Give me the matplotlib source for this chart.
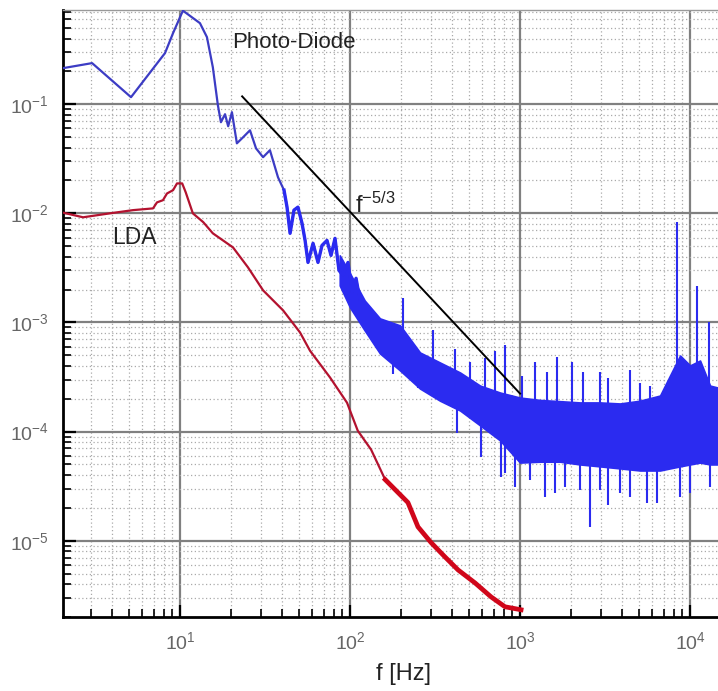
import numpy as np
import matplotlib.pyplot as plt
from matplotlib.ticker import LogLocator, NullFormatter

plt.rcParams['font.family'] = ['Liberation Sans', 'DejaVu Sans']
plt.rcParams['mathtext.fontset'] = 'custom'
plt.rcParams['mathtext.rm'] = 'Liberation Sans'
plt.rcParams['mathtext.it'] = 'Liberation Sans:italic'
plt.rcParams['mathtext.bf'] = 'Liberation Sans:bold'

# Photo-Diode spectrum, resolved part
pd_freq = [2.05, 3.04, 5.15, 8.16, 9.10, 10.4, 13.1, 14.4, 15.6, 16.7, 17.4,
           18.4, 19.2, 20.2, 21.6, 23.5, 25.8, 28.0, 30.8, 33.8, 37.7, 40.9,
           42.6, 44.4, 46.8, 49.4, 52.2, 54.4, 56.6, 60.6, 64.8, 68.4, 73.2,
           77.3, 81.6, 86.1, 91.0, 97.3, 102.8, 108.5, 114.5]
pd_psd = [0.214, 0.238, 0.116, 0.294, 0.448, 0.72, 0.553, 0.412, 0.218, 0.098,
          0.0684, 0.081, 0.0628, 0.0845, 0.0438, 0.0498, 0.0577, 0.0394,
          0.0327, 0.0379, 0.0214, 0.0163, 0.0114, 0.00656, 0.0107, 0.0114,
          0.0081, 0.00565, 0.00355, 0.00531, 0.00355, 0.00508, 0.00565,
          0.00412, 0.0059, 0.0030, 0.0027, 0.00355, 0.00188, 0.00254, 0.00159]

# Photo-Diode noise floor: upper / lower edge of the dense band
band_freq = [87, 100, 122, 150, 197, 258, 338, 444, 582, 763, 1000, 1311,
             1719, 2254, 2955, 3875, 5080, 6660, 7627, 8734, 10000, 11450,
             13110, 14610]
band_upper = [4.12e-3, 2.82e-3, 1.59e-3, 1.09e-3, 9.4e-4, 5.31e-4, 4.30e-4,
              3.48e-4, 2.64e-4, 2.28e-4, 2.05e-4, 1.95e-4, 1.9e-4, 1.85e-4,
              1.85e-4, 1.81e-4, 1.92e-4, 2.14e-4, 3.27e-4, 4.98e-4, 4.04e-4,
              4.48e-4, 2.64e-4, 2.53e-4]
band_lower = [2.18e-3, 1.37e-3, 8.45e-4, 5.2e-4, 3.63e-4, 2.48e-4, 1.92e-4,
              1.56e-4, 1.14e-4, 8.3e-5, 5.2e-5, 5.3e-5, 5.3e-5, 5.0e-5,
              4.8e-5, 4.6e-5, 4.4e-5, 4.4e-5, 4.6e-5, 4.8e-5, 5.0e-5,
              5.2e-5, 5.0e-5, 5.0e-5]

# narrow peaks sticking up out of the band
spike_freq = [205, 308, 415, 508, 623, 713, 816, 1028, 1225, 1443, 1651, 2013,
              2349, 2955, 3298, 4437, 5080, 5826, 8395, 10990, 12940]
spike_top = [1.66e-3, 8.45e-4, 5.77e-4, 4.3e-4, 4.77e-4, 5.53e-4, 6.28e-4,
             3.2e-4, 4.38e-4, 3.48e-4, 4.87e-4, 4.3e-4, 3.48e-4, 3.55e-4,
             3.13e-4, 3.7e-4, 2.81e-4, 2.59e-4, 8.26e-3, 2.14e-3, 1.0e-3]
spike_base = [6e-4, 3.5e-4, 2.5e-4, 2e-4, 1.8e-4, 1.5e-4, 1.4e-4, 1.2e-4,
              1e-4, 1e-4, 1e-4, 1e-4, 1e-4, 1e-4, 1e-4, 1e-4, 1e-4, 1e-4,
              2e-4, 2e-4, 1.5e-4]

# narrow dips reaching below the band
drop_freq = [179, 251, 426, 590, 773, 816, 935, 1145, 1403, 1607, 1841, 2253,
             2582, 2955, 3298, 3875, 4437, 5585, 6395, 8734, 10000, 13110]
drop_bottom = [3.4e-4, 2.53e-4, 9.8e-5, 5.9e-5, 3.87e-5, 4.2e-5, 3.13e-5,
               3.63e-5, 2.54e-5, 2.76e-5, 3.13e-5, 2.94e-5, 1.34e-5, 2.94e-5,
               2.14e-5, 2.76e-5, 2.54e-5, 2.23e-5, 2.23e-5, 2.54e-5, 2.76e-5,
               3.13e-5]
drop_top = [6e-4, 4e-4, 2.5e-4, 1.5e-4, 1e-4, 1e-4, 1e-4, 1e-4, 1e-4, 1e-4,
            1e-4, 1e-4, 1e-4, 1e-4, 1e-4, 1e-4, 1e-4, 1e-4, 1e-4, 1e-4, 1e-4,
            1e-4]

# LDA spectrum
lda_freq = [2.02, 2.69, 3.87, 5.29, 6.94, 7.32, 7.94, 8.38, 9.10, 9.60, 10.3,
            10.8, 11.9, 13.7, 15.6, 20.5, 25.1, 30.8, 40.4, 50.8, 58.2, 76.3,
            96.0, 111, 133, 161, 219, 251, 300, 362, 432, 544, 675, 816, 1014]
lda_psd = [0.0102, 0.0092, 0.0100, 0.0107, 0.0111, 0.0126, 0.0132, 0.0152,
           0.0163, 0.0188, 0.0188, 0.0156, 0.0100, 0.0083, 0.00656, 0.00487,
           0.0032, 0.00197, 0.00129, 0.00081, 0.00055, 3.13e-4, 1.84e-4,
           1.02e-4, 6.84e-5, 3.63e-5, 2.24e-5, 1.34e-5, 9.6e-6, 7.1e-6,
           5.4e-6, 4.1e-6, 3.06e-6, 2.48e-6, 2.33e-6]

# f^-5/3 reference slope
slope_freq = [23.2, 1000]
slope_psd = [0.118, 2.23e-4]

BLUE = '#2b2bf0'
BLUE_LINE = '#3c3cc4'

fig = plt.figure(figsize=(7.18, 6.91), dpi=100)
ax = fig.add_axes([63 / 718, 1 - 617 / 691, (718 - 63) / 718, (617 - 10) / 691])
ax.set_xscale('log')
ax.set_yscale('log')
ax.set_xlim(2.05, 14600)
ax.set_ylim(2.0e-6, 0.73)

ax.fill_between(band_freq, band_lower, band_upper, color=BLUE, lw=1.2,
                edgecolor=BLUE, zorder=3)
ax.vlines(spike_freq, spike_base, spike_top, color=BLUE, lw=1.5, zorder=3)
ax.vlines(drop_freq, drop_bottom, drop_top, color=BLUE, lw=1.5, zorder=3)

pd_f = np.array(pd_freq)
pd_p = np.array(pd_psd)
ax.plot(pd_f, pd_p, color=BLUE_LINE, lw=1.6, zorder=4)
late = pd_f >= 40
ax.plot(pd_f[late], pd_p[late], color=BLUE, lw=2.4, zorder=4)

lda_f = np.array(lda_freq)
lda_p = np.array(lda_psd)
ax.plot(lda_f, lda_p, color='#b3122f', lw=1.6, zorder=4)
hi = lda_f >= 150
ax.plot(lda_f[hi], lda_p[hi], color='#d0061a', lw=3.4, zorder=4)

ax.plot(slope_freq, slope_psd, color='black', lw=1.4, zorder=5)

ax.text(20.2, 0.37, 'Photo-Diode', fontsize=16, color='#222222', va='center')
ax.text(3.98, 0.006, 'LDA', fontsize=16.5, color='#222222', va='center')
ax.text(107, 0.0102, r'f$^{-5/3}$', fontsize=17, color='#222222',
        va='baseline')

for axis in (ax.xaxis, ax.yaxis):
    axis.set_major_locator(LogLocator(base=10, numticks=20))
    axis.set_minor_locator(LogLocator(base=10, subs=np.arange(2, 10), numticks=100))
    axis.set_minor_formatter(NullFormatter())

ax.grid(which='major', color='#808080', lw=1.6, zorder=0)
ax.grid(which='minor', color='#aaaaaa', lw=0.9, linestyle=(0, (1, 2)), zorder=0)
ax.set_axisbelow(True)

ax.tick_params(which='major', direction='in', length=9, width=1.6,
               labelsize=14, labelcolor='#666666', pad=10)
ax.tick_params(which='minor', direction='in', length=6, width=1.2)
ax.tick_params(top=False, right=False)

for side in ('left', 'bottom'):
    ax.spines[side].set_linewidth(2)
    ax.spines[side].set_color('black')
ax.spines['right'].set_visible(False)
ax.spines['top'].set_color('#999999')
ax.spines['top'].set_linewidth(1)

ax.set_xlabel('f [Hz]', fontsize=17, color='#222222')
ax.xaxis.set_label_coords((403 - 63) / (718 - 63), -0.075)

fig.savefig('out.png', dpi=100)
